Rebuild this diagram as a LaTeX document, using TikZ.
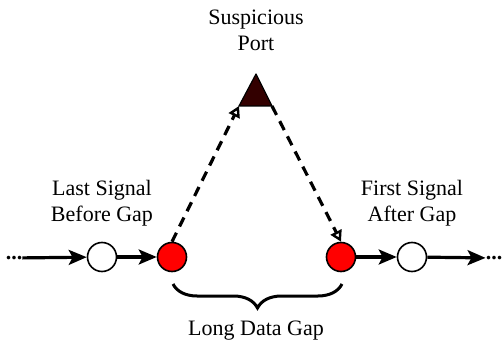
\documentclass[tikz,border=0pt]{standalone}
\usepackage{fontspec}
\setmainfont{Liberation Serif}
\usetikzlibrary{shapes.geometric,arrows.meta,decorations.pathreplacing}
\definecolor{portred}{RGB}{51,0,0}

\begin{document}
\begin{tikzpicture}[x=1pt, y=-1pt, font=\fontsize{22}{26}\selectfont]
      \tikzstyle{arrow} = [line width=3.2pt, -{Stealth[length=18pt, width=15pt, inset=4pt]}]
      \tikzstyle{dasharrow} = [line width=3.2pt, dash pattern=on 10pt off 7pt, -{Triangle[open, length=11pt, width=12pt, line width=2.4pt]}]
      \tikzstyle{signal} = [circle, draw=black, line width=1.6pt, fill=white, minimum size=29pt, inner sep=0pt]
      \tikzstyle{gapsignal} = [signal, fill=red]
      \tikzstyle{textbox} = [align=center, inner sep=0pt]

      \useasboundingbox (0,0) rectangle (504,350);

      \node (dots-L) [textbox] at (14,258) {\textbf{...}};
      \node (dots-R) [textbox] at (494,258) {\textbf{...}};
      \node (S-1) [signal] at (102,257) {};
      \node (G-1) [gapsignal] at (172,257) {};
      \node (G-2) [gapsignal] at (341,257) {};
      \node (S-2) [signal] at (412,257) {};

      \draw [arrow] (dots-L) -- (S-1);
      \draw [arrow] (S-1) -- (G-1);
      \draw [arrow] (G-2) -- (S-2);
      \draw [arrow] (S-2) -- (dots-R);

      % suspicious port
      \coordinate (port-top) at (256,74);
      \coordinate (port-left) at (239,106);
      \coordinate (port-right) at (272,106);
      \filldraw [fill=portred, draw=black, line width=1.2pt, line join=round] (port-top) -- (port-left) -- (port-right) -- cycle;

      \draw [dasharrow] (G-1.north) -- (port-left);
      \draw [dasharrow] (port-right) -- (G-2.north);

      \node (port-text) [textbox] at (256,30) {Suspicious\\Port};
      \node (last-text) [textbox] at (102,203) {Last Signal\\Before Gap};
      \node (first-text) [textbox] at (412,203) {First Signal\\After Gap};

      \coordinate (brace-L) at (173,284);
      \coordinate (brace-R) at (342,284);
      \draw [decorate, decoration={brace, mirror, amplitude=24pt}, line width=3pt] (brace-L) -- (brace-R);
      \node (gap-text) [textbox] at (256,331) {Long Data Gap};
\end{tikzpicture}
\end{document}
